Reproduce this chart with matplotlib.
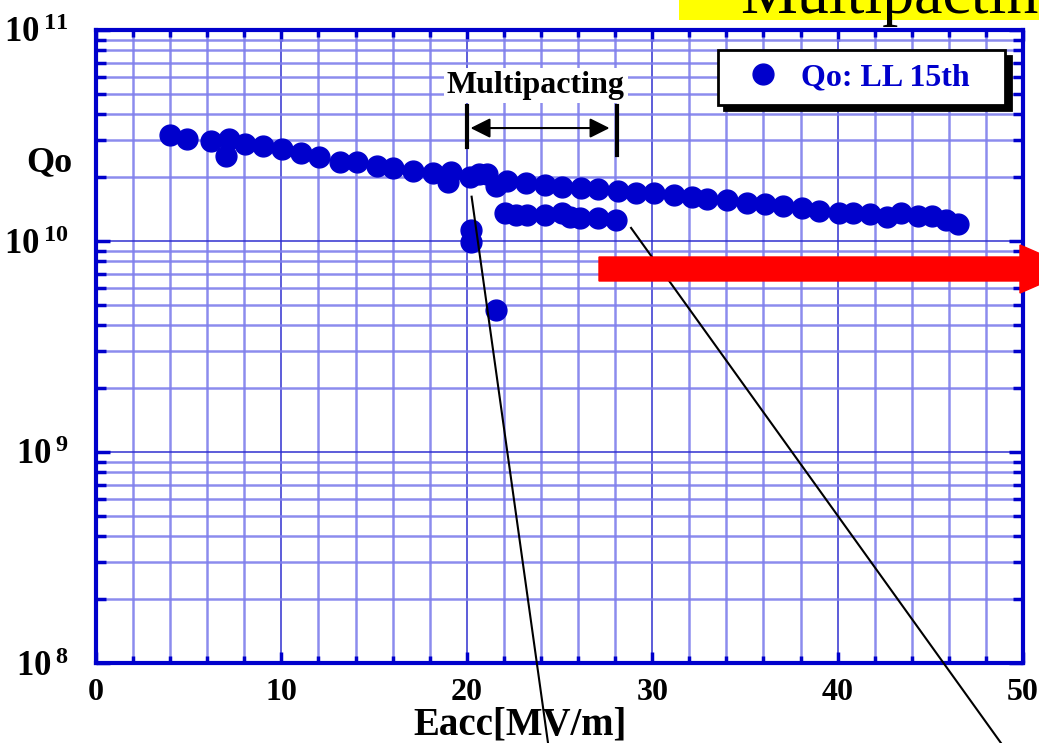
import matplotlib
matplotlib.use("Agg")
import matplotlib.pyplot as plt
from matplotlib.patches import Rectangle, FancyArrow
from matplotlib.ticker import FixedLocator, NullFormatter
import numpy as np

plt.rcParams['font.family'] = ['Liberation Serif', 'DejaVu Serif']
plt.rcParams['font.weight'] = 'bold'
plt.rcParams['mathtext.fontset'] = 'custom'
plt.rcParams['mathtext.bf'] = 'Liberation Serif:bold'
plt.rcParams['mathtext.rm'] = 'Liberation Serif:bold'

# ---- data ----
eacc_main = [3.99, 4.89, 6.20, 7.19, 7.01, 8.04, 9.02, 10.02, 11.06, 12.03,
             13.16, 14.06, 15.14, 16.04, 17.08, 18.15, 18.96, 19.15, 20.17, 20.66,
             21.09, 21.57, 22.15, 23.19, 24.22, 25.12, 26.16, 27.09, 28.17, 29.14,
             30.12, 31.16, 32.13, 32.97, 34.05, 35.13, 36.08, 37.07, 38.06, 39.01,
             40.09, 40.85, 41.75, 42.68, 43.40, 44.35, 45.07, 45.85, 46.51]
qo_main = [3.18e10, 3.03e10, 2.99e10, 3.03e10, 2.53e10, 2.87e10, 2.82e10, 2.72e10, 2.60e10, 2.51e10,
           2.36e10, 2.36e10, 2.27e10, 2.23e10, 2.14e10, 2.09e10, 1.91e10, 2.13e10, 2.02e10, 2.08e10,
           2.08e10, 1.82e10, 1.92e10, 1.88e10, 1.84e10, 1.81e10, 1.79e10, 1.76e10, 1.72e10, 1.69e10,
           1.68e10, 1.65e10, 1.62e10, 1.59e10, 1.56e10, 1.52e10, 1.50e10, 1.46e10, 1.44e10, 1.39e10,
           1.36e10, 1.36e10, 1.34e10, 1.30e10, 1.36e10, 1.31e10, 1.31e10, 1.26e10, 1.20e10]
eacc_mp = [20.23, 20.20, 21.57, 22.06, 22.65, 23.23, 24.22, 25.12, 25.57, 26.11, 27.08, 28.07]
qo_mp = [1.13e10, 0.99e10, 4.71e9, 1.35e10, 1.33e10, 1.33e10, 1.33e10, 1.36e10, 1.30e10, 1.28e10,
         1.29e10, 1.26e10]

x_ticks = [0, 10, 20, 30, 40, 50]
x_tick_labels = ['0', '10', '20', '30', '40', '50']
y_ticks = [1e8, 1e9, 1e10, 1e11]
y_tick_labels = [r'$\mathbf{10^{\,8}}$', r'$\mathbf{10^{\,9}}$',
                 r'$\mathbf{10^{\,10}}$', r'$\mathbf{10^{\,11}}$']
legend_label = 'Qo: LL 15th'
mp_label = 'Multipacting'
mp_range = [20.0, 28.1]

BLUE = '#0000CC'

fig = plt.figure(figsize=(10.39, 7.43), dpi=100)
W, H = 1039, 743
ax = fig.add_axes([96 / W, 1 - 663 / H, (1023 - 96) / W, (663 - 30) / H])
ax.set_yscale('log')
ax.set_xlim(0, 50)
ax.set_ylim(1e8, 1e11)

# grid
ax.xaxis.set_minor_locator(FixedLocator(np.arange(0, 51, 2)))
ax.yaxis.set_minor_locator(FixedLocator([m * 10.0 ** e for e in range(8, 11) for m in range(2, 10)]))
ax.yaxis.set_minor_formatter(NullFormatter())
ax.grid(True, which='minor', color='#8080ec', lw=1.8, alpha=0.9, zorder=0)
ax.grid(True, which='major', color='#3030d0', lw=1.1, zorder=0)
ax.set_axisbelow(True)

ax.set_xticks(x_ticks, labels=x_tick_labels)
ax.set_yticks(y_ticks, labels=y_tick_labels)
for s in ax.spines.values():
    s.set_color(BLUE)
    s.set_linewidth(3)
ax.tick_params(which='both', direction='in', color=BLUE, width=2.5,
               top=True, right=True)
ax.tick_params(axis='x', which='major', length=8, labelsize=23, pad=11)
ax.tick_params(axis='x', which='minor', length=5)
ax.tick_params(axis='y', which='major', length=10, labelsize=25, pad=20)
ax.tick_params(axis='y', which='minor', length=7)
for lab in ax.get_xticklabels():
    lab.set_fontweight('bold')

# data
ax.plot(eacc_main, qo_main, 'o', color=BLUE, ms=15, mec=BLUE, zorder=3,
        label=legend_label)
ax.plot(eacc_mp, qo_mp, 'o', color=BLUE, ms=15, mec=BLUE, zorder=3)

# multipacting annotation
ax.text(23.73, 5.45e10, mp_label, ha='center', va='center', fontsize=23,
        fontweight='bold', zorder=4,
        bbox=dict(facecolor='white', edgecolor='none', pad=2))
ax.plot([mp_range[0]] * 2, [4.37e10, 2.79e10], color='black', lw=3, zorder=4)
ax.plot([mp_range[1]] * 2, [4.37e10, 2.56e10], color='black', lw=3, zorder=4)
ax.annotate('', xy=(20.2, 3.43e10), xytext=(27.7, 3.43e10), zorder=4,
            arrowprops=dict(arrowstyle='<|-|>', color='black', lw=1.5,
                            mutation_scale=30, shrinkA=0, shrinkB=0))

# callout lines leaving the axes
ax.plot([20.26, 24.38], [10 ** 10.21, 10 ** 7.621], color='black', lw=1.5,
        clip_on=False, zorder=5)
ax.plot([28.86, 48.81], [10 ** 10.062, 10 ** 7.621], color='black', lw=1.5,
        clip_on=False, zorder=5)

# legend
leg = ax.legend(loc='upper right', bbox_to_anchor=((718 - 96) / 927, (663 - 50) / 633,
                                                   (1005 - 718) / 927, 0.0),
                mode='expand', fontsize=23, frameon=True, fancybox=False,
                borderpad=0.4, handlelength=2.0, handletextpad=0.2,
                borderaxespad=0, numpoints=1, markerscale=1.0,
                shadow={'ox': 4, 'oy': -4, 'facecolor': 'black',
                        'edgecolor': 'black', 'alpha': 1})
leg.get_frame().set_edgecolor('black')
leg.get_frame().set_linewidth(2)
for t in leg.get_texts():
    t.set_color(BLUE)
    t.set_fontweight('bold')
leg.set_zorder(6)

# labels
fig.text(49 / W, 1 - 163 / H, 'Qo', ha='center', va='center', fontsize=26,
         fontweight='bold')
fig.text(520 / W, 1 - 725 / H, 'Eacc[MV/m]', ha='center', va='center',
         fontsize=28, fontweight='bold')

# red arrow (figure coordinates)
fig.patches.append(FancyArrow(599 / W, 1 - 269 / H, (1075 - 599) / W, 0,
                              width=24 / H, head_width=48 / H, head_length=55 / W,
                              length_includes_head=True, color='#FF0000',
                              transform=fig.transFigure, figure=fig, zorder=10))

# yellow title box at top right (title text runs off the top of the slide)
fig.patches.append(Rectangle((679 / W, 1 - 20 / H), 1 - 679 / W, 20 / H,
                             facecolor='#FFFF00', edgecolor='none',
                             transform=fig.transFigure, figure=fig, zorder=1))
fig.text(740 / W, 1 - 13 / H, 'Multipacting', ha='left', va='baseline',
         fontsize=46, fontweight='normal', zorder=2)

fig.savefig('out.png', dpi=100)
